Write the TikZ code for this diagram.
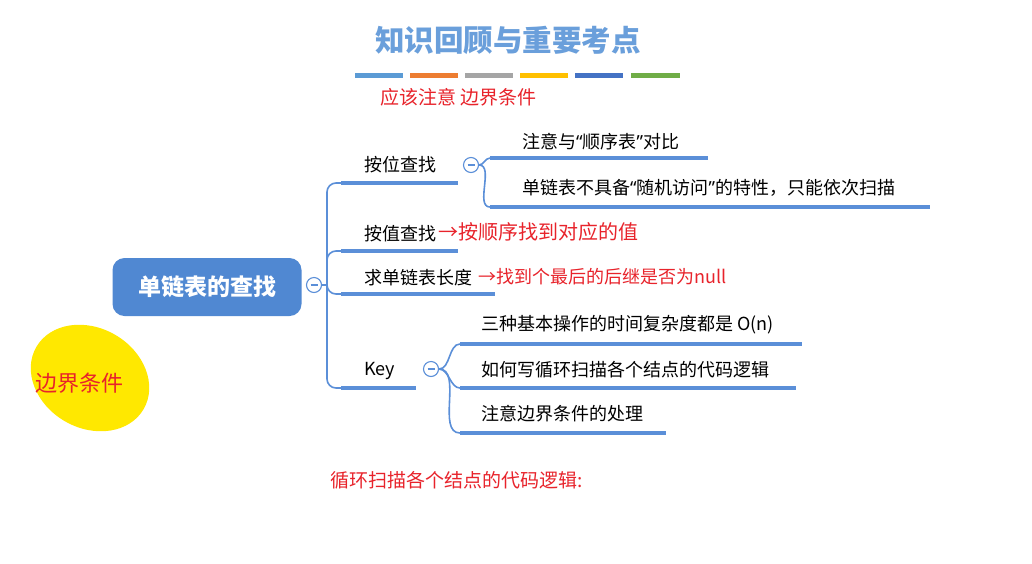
\documentclass[tikz,border=0pt]{standalone}
\usepackage{fontspec}
\setmainfont{Noto Sans CJK SC}
\newfontfamily\latfont{Noto Sans}
\newcommand\qOpen{{\latfont “}}
\newcommand\qClose{{\latfont ”}}
\newcommand\minusmark{{\color{lineblue}\rule[-0.6pt]{7pt}{1.2pt}}}
\definecolor{lineblue}{HTML}{5B8FD8}
\definecolor{rootblue}{HTML}{5088D2}
\definecolor{titleblue}{HTML}{6A9FDB}
\definecolor{handred}{HTML}{E8232B}
\definecolor{barA}{HTML}{5B9BD5}
\definecolor{barB}{HTML}{ED7D31}
\definecolor{barC}{HTML}{A5A5A5}
\definecolor{barD}{HTML}{FFC000}
\definecolor{barE}{HTML}{4472C4}
\definecolor{barF}{HTML}{70AD47}
\definecolor{hilite}{HTML}{FFE800}
\tikzset{
  ul/.style={line width=4pt, draw=lineblue},
  conn/.style={line width=1.6pt, draw=lineblue, rounded corners=9pt},
  lbl/.style={anchor=west, inner sep=0pt, font=\fontsize{18}{18}\selectfont},
  toggle/.style={circle, draw=lineblue, line width=1.1pt, fill=white, minimum size=15pt, inner sep=0pt},
  hand/.style={anchor=west, inner sep=0pt, text=handred},
  bar/.style={line width=5pt}
}
\begin{document}
\begin{tikzpicture}[x=1pt,y=-1pt]
\useasboundingbox (0,0) rectangle (1032,563);
\fill[white] (0,0) rectangle (1032,563);

% title
\node[font=\fontsize{29.5}{29.5}\selectfont\bfseries, text=titleblue, inner sep=0pt] (title) at (508,40) {知识回顾与重要考点};
\draw[bar, barA] (355,75) -- (403,75);
\draw[bar, barB] (410,75) -- (458,75);
\draw[bar, barC] (465,75) -- (513,75);
\draw[bar, barD] (520,75) -- (568,75);
\draw[bar, barE] (575,75) -- (623,75);
\draw[bar, barF] (631,75) -- (680,75);

% root
\node[rounded corners=12pt, fill=rootblue, minimum width=189pt, minimum height=58pt, inner sep=0pt,
      text=white, font=\fontsize{23}{23}\selectfont\bfseries] (root) at (207,287) {单链表的查找};
\node[toggle] (rt) at (314,285) {\minusmark};

% branch coordinates
\coordinate (j) at (327,285);
\coordinate (b1L) at (341,183); \coordinate (b1R) at (458,183);
\coordinate (b2L) at (341,251); \coordinate (b2R) at (458,251);
\coordinate (b3L) at (341,294); \coordinate (b3R) at (495,294);
\coordinate (b4L) at (341,388); \coordinate (b4R) at (416,388);

\draw[conn] (rt.east) -- (j);
\draw[conn] (j) |- (b1L);
\draw[conn] (j) |- (b2L);
\draw[conn] (j) |- (b3L);
\draw[conn] (j) |- (b4L);
\draw[ul] (b1L) -- (b1R);
\draw[ul] (b2L) -- (b2R);
\draw[ul] (b3L) -- (b3R);
\draw[ul] (b4L) -- (b4R);

\node[lbl] (n1) at (364,165) {按位查找};
\node[lbl] (n2) at (364,234) {按值查找};
\node[lbl] (n3) at (364,278) {求单链表长度};
\node[lbl] (n4) at (364,371) {Key};

% sub-branches of 按位查找
\node[toggle] (t1) at (471,165) {\minusmark};
\coordinate (s1L) at (490,158); \coordinate (s1R) at (708,158);
\coordinate (s2L) at (490,207); \coordinate (s2R) at (930,207);
\draw[conn] (t1.east) to[out=0,in=180,looseness=0.9] (s1L);
\draw[conn] (t1.east) to[out=0,in=180,looseness=0.9] (s2L);
\draw[ul] (s1L) -- (s1R);
\draw[ul] (s2L) -- (s2R);
\node[lbl] (m1) at (522,142) {注意与\qOpen 顺序表\qClose 对比};
\node[lbl] (m2) at (522,188) {单链表不具备\qOpen 随机访问\qClose 的特性，只能依次扫描};

% sub-branches of Key
\node[toggle] (t4) at (431,369) {\minusmark};
\coordinate (k1L) at (460,344); \coordinate (k1R) at (802,344);
\coordinate (k2L) at (460,388); \coordinate (k2R) at (796,388);
\coordinate (k3L) at (460,433); \coordinate (k3R) at (666,433);
\draw[conn] (t4.east) to[out=0,in=180,looseness=0.9] (k1L);
\draw[conn] (t4.east) to[out=0,in=180,looseness=0.9] (k2L);
\draw[conn] (t4.east) to[out=0,in=180,looseness=0.9] (k3L);
\draw[ul] (k1L) -- (k1R);
\draw[ul] (k2L) -- (k2R);
\draw[ul] (k3L) -- (k3R);
\node[lbl] (p1) at (481,325) {三种基本操作的时间复杂度都是 O(n)};
\node[lbl] (p2) at (481,370) {如何写循环扫描各个结点的代码逻辑};
\node[lbl] (p3) at (481,414) {注意边界条件的处理};

% handwritten notes
\node[hand, font=\fontsize{19}{19}\selectfont] (h1) at (380,97) {应该注意 边界条件};
\node[hand, font=\fontsize{20}{20}\selectfont] (h2) at (438,232) {→按顺序找到对应的值};
\node[hand, font=\fontsize{18}{18}\selectfont] (h3) at (478,277) {→找到个最后的后继是否为null};
\fill[hilite, rotate around={-30:(90,378)}] (90,378) ellipse (62pt and 50pt);
\node[hand, font=\fontsize{22}{22}\selectfont] (h4) at (35,383) {边界条件};
\node[hand, font=\fontsize{19}{19}\selectfont] (h5) at (330,480) {循环扫描各个结点的代码逻辑:};
\end{tikzpicture}
\end{document}
